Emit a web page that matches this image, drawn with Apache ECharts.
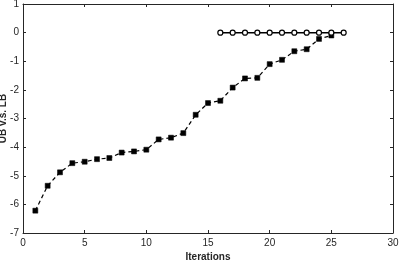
<!DOCTYPE html>
<html><head><meta charset="utf-8">
<script src="https://cdn.jsdelivr.net/npm/echarts@6/dist/echarts.min.js"></script>
<style>html,body{margin:0;padding:0;background:#fff}#c{width:399px;height:261px}</style>
</head><body><div id="c"></div>
<script>
const lbIter = [1,2,3,4,5,6,7,8,9,10,11,12,13,14,15,16,17,18,19,20,21,22,23,24,25];
const lbValues = [-6.22,-5.35,-4.88,-4.56,-4.51,-4.42,-4.38,-4.19,-4.15,-4.09,-3.73,-3.67,-3.51,-2.87,-2.46,-2.38,-1.92,-1.60,-1.58,-1.10,-0.95,-0.65,-0.58,-0.22,-0.10];
const ubIter = [16,17,18,19,20,21,22,23,24,25,26];
const ubValues = [0,0,0,0,0,0,0,0,0,0,0];
const xTicks = [0,5,10,15,20,25,30];
const yTicks = [-7,-6,-5,-4,-3,-2,-1,0,1];

const axisColor = '#262626';
const font = 'Liberation Sans, Arial, Helvetica, sans-serif';
const chart = echarts.init(document.getElementById('c'), null, {renderer:'canvas'});
const baseAxis = {
  axisLine:{show:true,onZero:false,lineStyle:{color:axisColor,width:1}},
  axisTick:{show:true,inside:true,length:3,lineStyle:{color:axisColor}},
  splitLine:{show:false},
  axisLabel:{color:'#262626',fontFamily:font,fontSize:10}
};
chart.setOption({
  animation:false,
  grid:{left:23,right:6,top:4,bottom:28,containLabel:false,outerBoundsMode:'none'},
  xAxis:[
    Object.assign({}, baseAxis, {type:'value',min:xTicks[0],max:xTicks[xTicks.length-1],interval:5,position:'bottom',
      name:'Iterations',nameLocation:'middle',nameGap:19,nameMoveOverlap:false,
      nameTextStyle:{color:'#262626',fontFamily:font,fontSize:10,fontWeight:'bold'},
      axisLabel:{color:'#262626',fontFamily:font,fontSize:10,margin:5}}),
    Object.assign({}, baseAxis, {type:'value',min:xTicks[0],max:xTicks[xTicks.length-1],interval:5,position:'top',axisLabel:{show:false}})
  ],
  yAxis:[
    Object.assign({}, baseAxis, {type:'value',min:yTicks[0],max:yTicks[yTicks.length-1],interval:1,position:'left',
      name:'UB v.s. LB',nameLocation:'middle',nameGap:15,nameRotate:90,nameMoveOverlap:false,
      nameTextStyle:{color:'#262626',fontFamily:font,fontSize:10,fontWeight:'bold'},
      axisLabel:{color:'#262626',fontFamily:font,fontSize:10,margin:4}}),
    Object.assign({}, baseAxis, {type:'value',min:yTicks[0],max:yTicks[yTicks.length-1],interval:1,position:'right',axisLabel:{show:false}})
  ],
  series:[
    {type:'line',xAxisIndex:0,yAxisIndex:0,data:lbIter.map((x,i)=>[x,lbValues[i]]),
      lineStyle:{color:'#000',width:1.2,type:[4,3]},
      symbol:'rect',symbolSize:5,itemStyle:{color:'#000',borderColor:'#000',borderWidth:0.5}},
    {type:'line',xAxisIndex:0,yAxisIndex:0,data:ubIter.map((x,i)=>[x,ubValues[i]]),
      lineStyle:{color:'#000',width:1.5},
      symbol:'circle',symbolSize:5,itemStyle:{color:'#fff',borderColor:'#000',borderWidth:1.2}}
  ]
});
</script></body></html>
